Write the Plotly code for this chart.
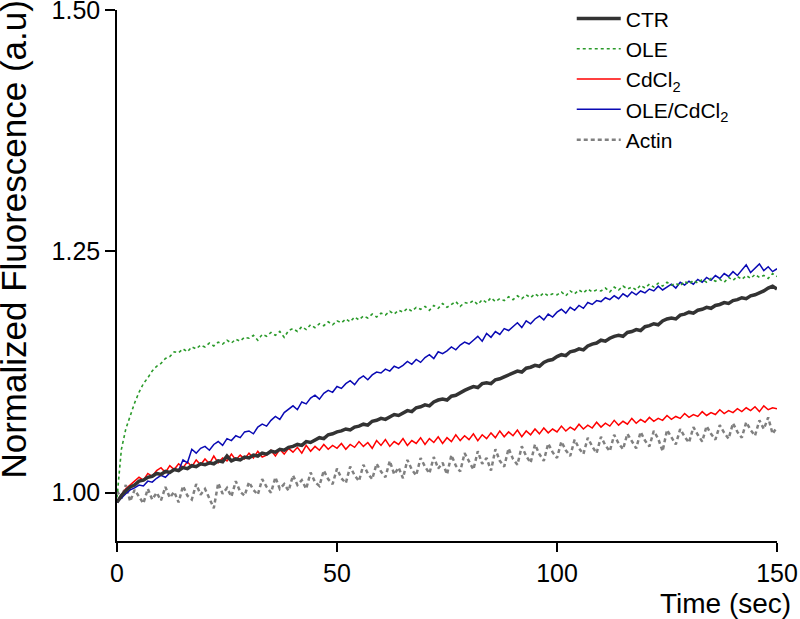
import plotly.graph_objects as go

# Time axis (sec), one reading per second
time_s = list(range(0, 151))

ctr = [
    0.990, 0.997, 1.002, 1.006, 1.008, 1.012, 1.013, 1.016, 1.017, 1.020,
    1.019, 1.022, 1.021, 1.024, 1.023, 1.026, 1.025, 1.028, 1.027, 1.030,
    1.029, 1.031, 1.030, 1.033, 1.032, 1.038, 1.033, 1.035, 1.034, 1.037,
    1.036, 1.039, 1.038, 1.041, 1.040, 1.043, 1.042, 1.045, 1.044, 1.047,
    1.048, 1.050, 1.049, 1.053, 1.052, 1.055, 1.057, 1.056, 1.060, 1.061,
    1.063, 1.064, 1.066, 1.065, 1.068, 1.069, 1.071, 1.070, 1.074, 1.075,
    1.077, 1.076, 1.079, 1.081, 1.080, 1.083, 1.085, 1.084, 1.088, 1.089,
    1.091, 1.090, 1.094, 1.096, 1.097, 1.096, 1.100, 1.101, 1.104, 1.106,
    1.108, 1.110, 1.109, 1.113, 1.114, 1.113, 1.117, 1.118, 1.120, 1.122,
    1.124, 1.126, 1.125, 1.129, 1.130, 1.132, 1.131, 1.135, 1.137, 1.138,
    1.141, 1.143, 1.142, 1.146, 1.147, 1.149, 1.148, 1.152, 1.154, 1.155,
    1.158, 1.157, 1.160, 1.162, 1.163, 1.162, 1.166, 1.167, 1.169, 1.168,
    1.172, 1.173, 1.175, 1.174, 1.178, 1.180, 1.181, 1.180, 1.184, 1.185,
    1.187, 1.186, 1.189, 1.190, 1.192, 1.191, 1.194, 1.195, 1.197, 1.196,
    1.199, 1.200, 1.202, 1.201, 1.204, 1.205, 1.207, 1.209, 1.212, 1.214,
    1.211,
]

ole = [
    0.995, 1.045, 1.066, 1.080, 1.093, 1.104, 1.113, 1.119, 1.126, 1.131,
    1.134, 1.139, 1.141, 1.146, 1.145, 1.149, 1.146, 1.151, 1.149, 1.153,
    1.151, 1.155, 1.152, 1.156, 1.154, 1.158, 1.155, 1.159, 1.157, 1.161,
    1.160, 1.163, 1.158, 1.164, 1.162, 1.166, 1.163, 1.167, 1.161, 1.168,
    1.170, 1.167, 1.172, 1.169, 1.174, 1.171, 1.175, 1.173, 1.177, 1.174,
    1.178, 1.176, 1.180, 1.177, 1.182, 1.179, 1.183, 1.181, 1.185, 1.182,
    1.186, 1.184, 1.188, 1.185, 1.189, 1.187, 1.191, 1.188, 1.192, 1.190,
    1.193, 1.189, 1.194, 1.191, 1.196, 1.192, 1.195, 1.198, 1.193, 1.197,
    1.196, 1.199, 1.195, 1.200, 1.197, 1.202, 1.198, 1.201, 1.199, 1.203,
    1.200, 1.204, 1.201, 1.205, 1.202, 1.206, 1.203, 1.207, 1.204, 1.206,
    1.205, 1.208, 1.204, 1.209, 1.206, 1.210, 1.207, 1.211, 1.208, 1.210,
    1.209, 1.212, 1.208, 1.213, 1.210, 1.214, 1.211, 1.213, 1.210, 1.215,
    1.212, 1.216, 1.213, 1.217, 1.214, 1.218, 1.215, 1.217, 1.214, 1.219,
    1.216, 1.220, 1.217, 1.221, 1.218, 1.222, 1.219, 1.221, 1.218, 1.223,
    1.220, 1.224, 1.221, 1.225, 1.222, 1.226, 1.223, 1.225, 1.222, 1.227,
    1.224,
]

cdcl2 = [
    0.990, 0.998, 1.004, 1.008, 1.011, 1.016, 1.013, 1.020, 1.017, 1.023,
    1.026, 1.021, 1.028, 1.024, 1.030, 1.026, 1.032, 1.027, 1.034, 1.029,
    1.035, 1.030, 1.038, 1.031, 1.036, 1.033, 1.040, 1.034, 1.039, 1.035,
    1.041, 1.036, 1.043, 1.037, 1.039, 1.044, 1.038, 1.045, 1.040, 1.046,
    1.042, 1.047, 1.041, 1.049, 1.043, 1.048, 1.044, 1.050, 1.045, 1.049,
    1.046, 1.051, 1.045, 1.050, 1.047, 1.053, 1.048, 1.052, 1.046, 1.054,
    1.049, 1.055, 1.048, 1.053, 1.050, 1.056, 1.049, 1.054, 1.051, 1.057,
    1.050, 1.056, 1.052, 1.058, 1.051, 1.057, 1.053, 1.060, 1.054, 1.059,
    1.055, 1.061, 1.054, 1.060, 1.056, 1.062, 1.057, 1.064, 1.058, 1.063,
    1.059, 1.065, 1.058, 1.064, 1.060, 1.066, 1.061, 1.067, 1.062, 1.066,
    1.063, 1.069, 1.064, 1.068, 1.065, 1.071, 1.066, 1.070, 1.067, 1.073,
    1.068, 1.072, 1.069, 1.075, 1.070, 1.074, 1.071, 1.077, 1.072, 1.076,
    1.073, 1.078, 1.074, 1.077, 1.075, 1.080, 1.076, 1.079, 1.077, 1.082,
    1.078, 1.081, 1.079, 1.084, 1.080, 1.083, 1.081, 1.086, 1.082, 1.085,
    1.083, 1.087, 1.084, 1.088, 1.085, 1.089, 1.084, 1.090, 1.086, 1.088,
    1.087,
]

ole_cdcl2 = [
    0.990, 0.995, 0.999, 1.003, 1.005, 1.008, 1.007, 1.012, 1.011, 1.015,
    1.018, 1.016, 1.021, 1.025, 1.023, 1.034, 1.031, 1.045, 1.041, 1.046,
    1.048, 1.044, 1.050, 1.053, 1.049, 1.056, 1.054, 1.059, 1.057, 1.063,
    1.064, 1.061, 1.068, 1.071, 1.069, 1.075, 1.079, 1.076, 1.083, 1.087,
    1.090, 1.086, 1.094, 1.092, 1.098, 1.101, 1.097, 1.103, 1.106, 1.104,
    1.110, 1.108, 1.113, 1.116, 1.112, 1.118, 1.121, 1.117, 1.122, 1.125,
    1.124, 1.128, 1.126, 1.131, 1.129, 1.132, 1.136, 1.133, 1.138, 1.135,
    1.140, 1.143, 1.139, 1.146, 1.144, 1.147, 1.151, 1.148, 1.153, 1.156,
    1.154, 1.158, 1.162, 1.157, 1.165, 1.161, 1.167, 1.164, 1.170, 1.168,
    1.172, 1.176, 1.171, 1.178, 1.175, 1.180, 1.183, 1.179, 1.185, 1.182,
    1.187, 1.190, 1.186, 1.192, 1.189, 1.194, 1.191, 1.197, 1.195, 1.199,
    1.198, 1.202, 1.200, 1.204, 1.201, 1.206, 1.203, 1.208, 1.205, 1.209,
    1.207, 1.211, 1.209, 1.214, 1.210, 1.213, 1.216, 1.212, 1.218, 1.215,
    1.219, 1.216, 1.221, 1.218, 1.223, 1.220, 1.225, 1.222, 1.227, 1.224,
    1.229, 1.225, 1.231, 1.236, 1.228, 1.233, 1.237, 1.230, 1.234, 1.229,
    1.232,
]

actin = [
    1.002, 0.994, 1.008, 0.991, 1.003, 0.996, 0.989, 1.004, 0.993, 1.000,
    0.992, 1.006, 0.995, 1.001, 0.990, 1.007, 0.997, 0.993, 1.009, 0.998,
    1.004, 0.994, 0.984, 1.010, 0.999, 1.005, 0.996, 1.012, 1.001, 0.997,
    1.011, 1.003, 0.998, 1.014, 1.006, 1.000, 1.016, 1.004, 1.009, 1.002,
    1.018, 1.008, 1.013, 1.004, 1.021, 1.011, 1.007, 1.023, 1.014, 1.009,
    1.025, 1.015, 1.010, 1.027, 1.018, 1.012, 1.029, 1.020, 1.014, 1.030,
    1.022, 1.016, 1.033, 1.019, 1.026, 1.015, 1.034, 1.024, 1.018, 1.036,
    1.027, 1.020, 1.037, 1.025, 1.031, 1.019, 1.039, 1.028, 1.022, 1.041,
    1.032, 1.024, 1.043, 1.030, 1.036, 1.023, 1.045, 1.033, 1.027, 1.046,
    1.035, 1.029, 1.048, 1.038, 1.031, 1.050, 1.040, 1.033, 1.051, 1.042,
    1.036, 1.053, 1.044, 1.038, 1.055, 1.046, 1.040, 1.057, 1.048, 1.041,
    1.058, 1.049, 1.043, 1.060, 1.051, 1.045, 1.061, 1.053, 1.046, 1.063,
    1.054, 1.048, 1.064, 1.056, 1.043, 1.065, 1.057, 1.050, 1.066, 1.058,
    1.052, 1.068, 1.060, 1.053, 1.069, 1.061, 1.055, 1.070, 1.062, 1.056,
    1.072, 1.063, 1.057, 1.073, 1.065, 1.059, 1.075, 1.066, 1.078, 1.061,
    1.068,
]

FONT = "Liberation Sans, Arial, sans-serif"

fig = go.Figure()

# draw order: actin at the back, then red, blue, black, green dots on top
fig.add_trace(go.Scatter(x=time_s, y=actin, name="Actin", mode="lines", legendrank=5,
                         line=dict(color="#808080", width=2.5, dash="4px,3px")))
fig.add_trace(go.Scatter(x=time_s, y=cdcl2, name="CdCl<sub>2</sub>", mode="lines", legendrank=3,
                         line=dict(color="#ff0000", width=1.5)))
fig.add_trace(go.Scatter(x=time_s, y=ole_cdcl2, name="OLE/CdCl<sub>2</sub>", mode="lines", legendrank=4,
                         line=dict(color="#0a0ab4", width=1.5)))
fig.add_trace(go.Scatter(x=time_s, y=ctr, name="CTR", mode="lines", legendrank=1,
                         line=dict(color="#333333", width=3.5)))
fig.add_trace(go.Scatter(x=time_s, y=ole, name="OLE", mode="lines", legendrank=2,
                         line=dict(color="#2a9a2a", width=1.6, dash="dot")))

fig.update_layout(
    width=800, height=619,
    margin=dict(l=117, r=23, t=10, b=78, autoexpand=False),
    paper_bgcolor="white", plot_bgcolor="white",
    font=dict(family=FONT, color="black"),
    showlegend=True,
    legend=dict(x=0.689, y=1.022, xanchor="left", yanchor="top",
                bgcolor="rgba(0,0,0,0)", font=dict(size=21, family=FONT),
                itemwidth=44, tracegroupgap=0),
    xaxis=dict(range=[0, 150], tickvals=[0, 50, 100, 150],
               showline=True, linecolor="black", linewidth=1.5,
               ticks="outside", ticklen=9, tickwidth=1.5, tickcolor="black",
               showgrid=False, zeroline=False, tickfont=dict(size=25),
               ticklabeloverflow="allow"),
    yaxis=dict(range=[0.95, 1.5], tickvals=[1.0, 1.25, 1.5], tickformat=".2f",
               showline=True, linecolor="black", linewidth=1.5,
               ticks="outside", ticklen=10, tickwidth=1.5, tickcolor="black",
               showgrid=False, zeroline=False, tickfont=dict(size=25),
               ticklabeloverflow="allow"),
    annotations=[
        dict(text="Normalized Fluorescence (a.u)", textangle=-90,
             xref="paper", yref="paper", x=-0.19, y=0.113,
             xanchor="left", yanchor="bottom", showarrow=False,
             font=dict(size=35, family=FONT)),
        dict(text="Time (sec)", xref="paper", yref="paper", x=1.024, y=-0.118,
             xanchor="right", yanchor="middle", showarrow=False,
             font=dict(size=28, family=FONT)),
    ],
)

# the page body has a default 8px margin; drop it so the figure sits at the window corner
fig.write_html("out.html", config={"displayModeBar": False},
               post_script="document.body.style.margin='0px';")
